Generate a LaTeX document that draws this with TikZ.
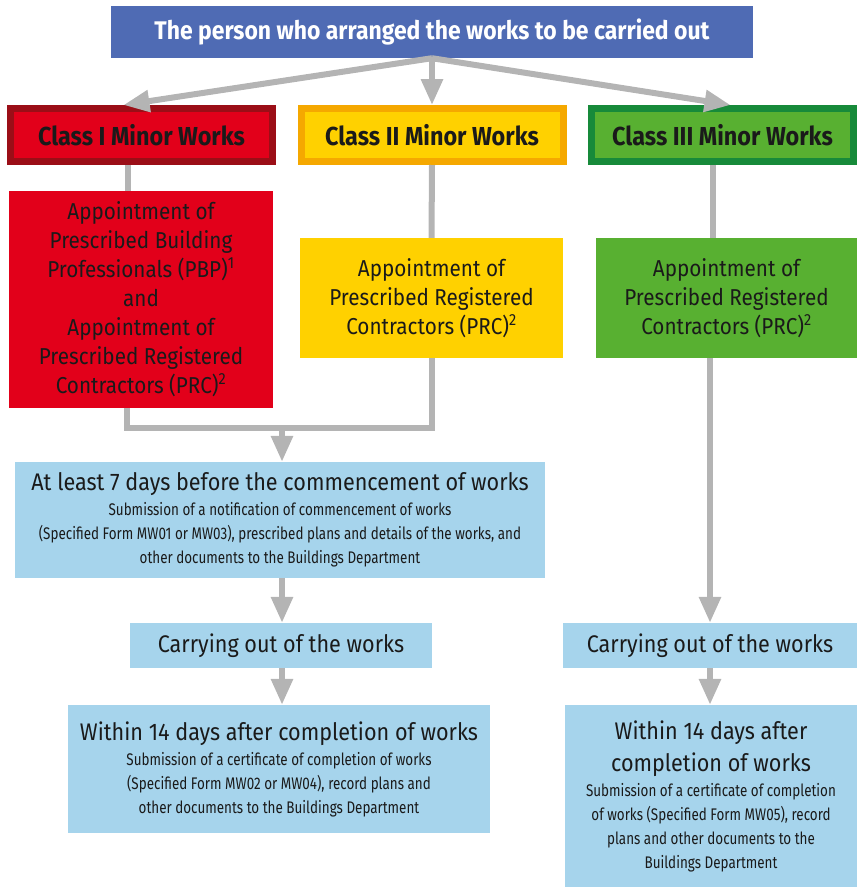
\documentclass[tikz,border=0pt]{standalone}
\usepackage{fontspec}
\setmainfont{Fira Sans}
\newfontfamily\bodyfont[FakeStretch=0.9]{Fira Sans}
\newfontfamily\condfont[FakeStretch=0.8]{Fira Sans}
\newfontfamily\headfont[FakeStretch=0.9]{Fira Sans}
\newcommand\subtext{\condfont\fontsize{16.8}{24}\selectfont}
\usetikzlibrary{arrows.meta,positioning}
\definecolor{topblue}{HTML}{4F6BB4}
\definecolor{redfill}{HTML}{E2001A}
\definecolor{redrim}{HTML}{9B0E17}
\definecolor{yelfill}{HTML}{FFD100}
\definecolor{yelrim}{HTML}{F5A800}
\definecolor{grnfill}{HTML}{58B031}
\definecolor{grnrim}{HTML}{178A3A}
\definecolor{stagefill}{HTML}{A6D4EC}
\definecolor{linkgray}{HTML}{B4B4B4}
\definecolor{ink}{HTML}{1A1A1A}
\tikzset{
  cls/.style={line width=7pt,minimum width=262pt,minimum height=53pt,inner sep=0pt,
    text=ink,font=\headfont\bfseries\fontsize{26}{30}\selectfont},
  appt/.style={inner sep=0pt,align=center,text=ink,minimum height=120pt,
    font=\bodyfont\fontsize{23}{29}\selectfont},
  stage/.style={fill=stagefill,inner sep=0pt,align=center,text=ink,
    font=\bodyfont\fontsize{24}{32}\selectfont},
  link/.style={draw=linkgray,line width=6pt,line join=miter},
  flow/.style={link,-{Triangle[length=26pt,width=21pt]}}
}
\begin{document}
\begin{tikzpicture}[x=1pt,y=-1pt]
\useasboundingbox (0,0) rectangle (857,887);
\node[fill=topblue,minimum width=642pt,minimum height=52pt,inner sep=0pt,text=white,
  font=\headfont\bfseries\fontsize{25.5}{30}\selectfont] (top) at (432,32)
  {The person who arranged the works to be carried out};
\node[cls,draw=redrim,fill=redfill] (c1) at (141.5,135) {Class I Minor Works};
\node[cls,draw=yelrim,fill=yelfill] (c2) at (432,135) {Class II Minor Works};
\node[cls,draw=grnrim,fill=grnfill] (c3) at (722.5,135) {Class III Minor Works};
\node[appt,fill=redfill,minimum width=264pt,minimum height=217pt] (red) at (141,299.5)
  {Appointment of\\Prescribed Building\\Professionals (PBP)\textsuperscript{1}\\and\\
   Appointment of\\Prescribed Registered\\Contractors (PRC)\textsuperscript{2}};
\node[appt,fill=yelfill,minimum width=263pt] (yel) at (431.5,298)
  {Appointment of\\Prescribed Registered\\Contractors (PRC)\textsuperscript{2}};
\node[appt,fill=grnfill,minimum width=261pt] (grn) at (726.5,298)
  {Appointment of\\Prescribed Registered\\Contractors (PRC)\textsuperscript{2}};
\node[stage,minimum width=530pt,minimum height=116pt] (notice) at (280,520)
  {At least 7 days before the commencement of works\\[-7pt]
   \subtext Submission of a notification of commencement of works\\[-8pt]
   \subtext (Specified Form MW01 or MW03), prescribed plans and details of the works, and\\[-8pt]
   \subtext other documents to the Buildings Department};
\node[stage,minimum width=302pt,minimum height=45pt] (carry1) at (281,645.5)
  {Carrying out of the works};
\node[stage,minimum width=422pt,minimum height=128pt] (done1) at (279,769)
  {Within 14 days after completion of works\\[-7pt]
   \subtext Submission of a certificate of completion of works\\[-8pt]
   \subtext (Specified Form MW02 or MW04), record plans and\\[-8pt]
   \subtext other documents to the Buildings Department};
\node[stage,minimum width=294pt,minimum height=45pt] (carry2) at (710,645.5)
  {Carrying out of the works};
\node[stage,minimum width=292pt,minimum height=182pt] (done2) at (711,796)
  {Within 14 days after\\completion of works\\[-7pt]
   \subtext Submission of a certificate of completion\\[-8pt]
   \subtext of works (Specified Form MW05), record\\[-8pt]
   \subtext plans and other documents to the\\[-8pt]
   \subtext Buildings Department};
\coordinate (merge) at (282,428);
\draw[flow] (top.south) -- ([xshift=-18pt]c1.north);
\draw[flow] (top.south) -- (c2.north);
\draw[flow] (top.south) -- ([xshift=8pt]c3.north);
\draw[link] ([xshift=-14pt]c1.south) -- ([xshift=-14pt]c1.south |- red.north);
\draw[link] (c2.south) -- (yel.north);
\draw[link] ([xshift=-10pt]c3.south) -- ([xshift=-10pt]c3.south |- grn.north);
\draw[link] ([xshift=-14pt]red.south) |- (yel.south |- merge) -- (yel.south);
\draw[flow] (merge) -- (merge |- notice.north);
\draw[flow] (notice.south -| merge) -- (carry1.north -| merge);
\draw[flow] (carry1.south -| merge) -- (done1.north -| merge);
\draw[flow] (grn.south -| carry2.north) -- (carry2.north);
\draw[flow] (carry2.south) -- (done2.north -| carry2.south);
\end{tikzpicture}
\end{document}
